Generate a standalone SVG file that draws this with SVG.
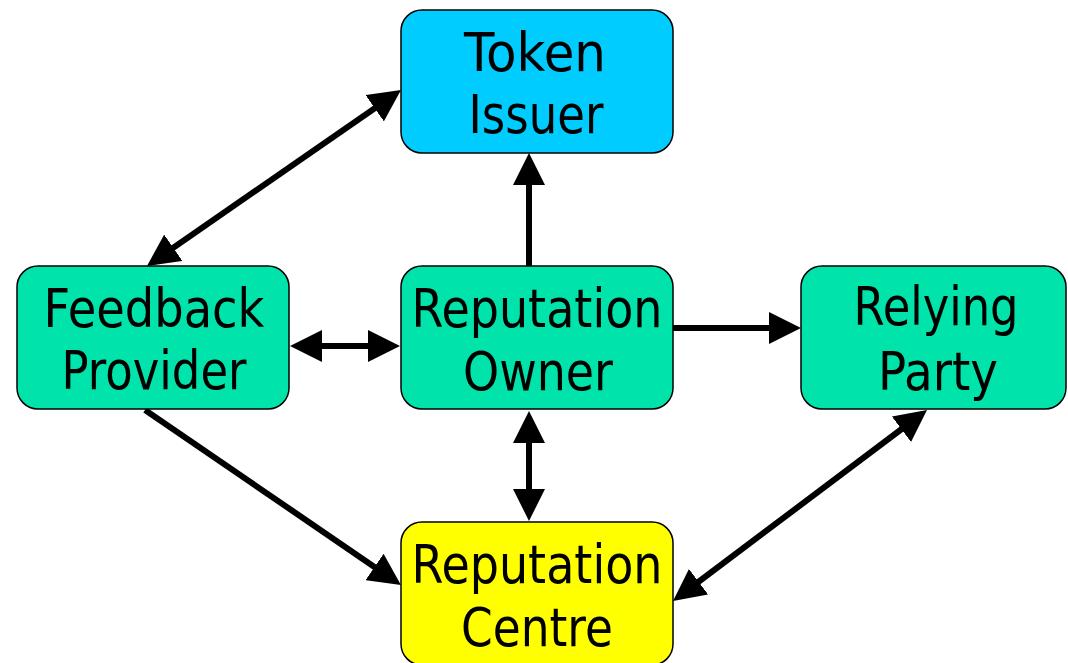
<svg xmlns="http://www.w3.org/2000/svg" width="1068" height="663" viewBox="0 0 1068 663">
<style>
.box{stroke:#000;stroke-width:1.5}
.green{fill:#00E3AA}
.blue{fill:#00CCFF}
.yellow{fill:#FFFF00}
.lbl{font-family:"DejaVu Sans","Liberation Sans",sans-serif;font-size:53px;fill:#000;text-anchor:middle}
.conn{stroke:#000;stroke-width:6;fill:none}
</style>
<defs>
<marker id="ah" markerUnits="userSpaceOnUse" markerWidth="32" markerHeight="32" viewBox="0 0 32 32" refX="22" refY="16" orient="auto-start-reverse">
<path d="M0,0 L32,16 L0,32 Z" fill="#000"/>
</marker>
</defs>
<rect width="1068" height="663" fill="#fff"/>
<g id="connectors">
<line class="conn" x1="155.2" y1="260.3" x2="392.8" y2="95.7" marker-start="url(#ah)" marker-end="url(#ah)"/>
<line class="conn" x1="529" y1="266" x2="529" y2="163" marker-end="url(#ah)"/>
<line class="conn" x1="300" y1="346" x2="390" y2="346" marker-start="url(#ah)" marker-end="url(#ah)"/>
<line class="conn" x1="673" y1="328" x2="791" y2="328" marker-end="url(#ah)"/>
<line class="conn" x1="529" y1="421" x2="529" y2="511" marker-start="url(#ah)" marker-end="url(#ah)"/>
<line class="conn" x1="145" y1="410" x2="392.7" y2="579.4" marker-end="url(#ah)"/>
<line class="conn" x1="919" y1="416" x2="681" y2="595" marker-start="url(#ah)" marker-end="url(#ah)"/>
</g>
<g id="token-issuer">
<rect class="box blue" x="401" y="10" width="272" height="143" rx="21"/>
<text class="lbl" x="535" y="71" textLength="142" lengthAdjust="spacingAndGlyphs">Token</text>
<text class="lbl" x="536" y="133" textLength="135" lengthAdjust="spacingAndGlyphs">Issuer</text>
</g>
<g id="feedback-provider">
<rect class="box green" x="17" y="266" width="272" height="143" rx="21"/>
<text class="lbl" x="154" y="327" textLength="221" lengthAdjust="spacingAndGlyphs">Feedback</text>
<text class="lbl" x="154" y="389" textLength="185" lengthAdjust="spacingAndGlyphs">Provider</text>
</g>
<g id="reputation-owner">
<rect class="box green" x="401" y="266" width="272" height="143" rx="21"/>
<text class="lbl" x="537" y="327" textLength="251" lengthAdjust="spacingAndGlyphs">Reputation</text>
<text class="lbl" x="538" y="390" textLength="150" lengthAdjust="spacingAndGlyphs">Owner</text>
</g>
<g id="relying-party">
<rect class="box green" x="801" y="266" width="265" height="143" rx="21"/>
<text class="lbl" x="936" y="325" textLength="165" lengthAdjust="spacingAndGlyphs">Relying</text>
<text class="lbl" x="938" y="390" textLength="120" lengthAdjust="spacingAndGlyphs">Party</text>
</g>
<g id="reputation-centre">
<rect class="box yellow" x="401" y="522" width="272" height="143" rx="21"/>
<text class="lbl" x="537" y="583" textLength="251" lengthAdjust="spacingAndGlyphs">Reputation</text>
<text class="lbl" x="537" y="646" textLength="152" lengthAdjust="spacingAndGlyphs">Centre</text>
</g>
</svg>
